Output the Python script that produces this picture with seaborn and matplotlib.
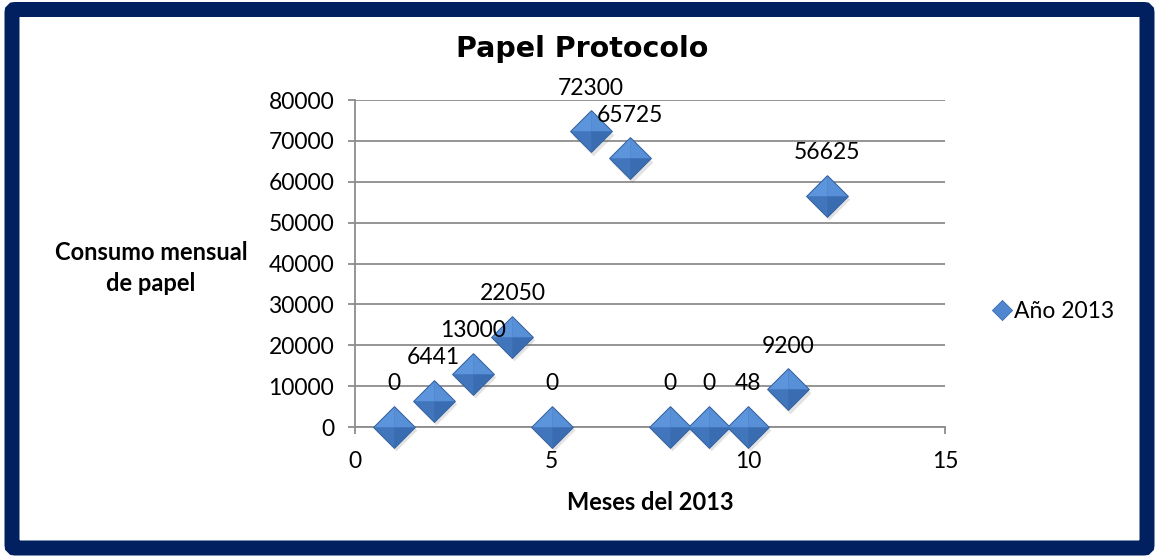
import numpy as np
import pandas as pd
import matplotlib
matplotlib.use("Agg")
import matplotlib.pyplot as plt
import matplotlib.transforms as mtransforms
from matplotlib.lines import Line2D
from matplotlib.patches import FancyBboxPatch
import seaborn as sns

# values
meses = [1, 2, 3, 4, 5, 6, 7, 8, 9, 10, 11, 12]
consumo = [0, 6441, 13000, 22050, 0, 72300, 65725, 0, 0, 48, 9200, 56625]
serie = "Año 2013"
titulo = "Papel Protocolo"
x_label = "Meses del 2013"
y_label = "Consumo mensual\nde papel"
x_ticks = [0, 5, 10, 15]
y_ticks = [0, 10000, 20000, 30000, 40000, 50000, 60000, 70000, 80000]

df = pd.DataFrame({"mes": meses, "consumo": consumo})

NAVY = "#002060"
GRID = "#8c8c8c"
BASE = "#3f71b6"

# diamond marker and its four facets (bevelled look)
diamante = np.array([[0, 1], [1, 0], [0, -1], [-1, 0], [0, 1]])
facetas = [
    ("#5d95dc", [[0, 0], [-1, 0], [0, 1], [0, 0]]),   # top left
    ("#5890d8", [[0, 0], [0, 1], [1, 0], [0, 0]]),    # top right
    ("#4175bc", [[0, 0], [0, -1], [-1, 0], [0, 0]]),  # bottom left
    ("#3a6cb2", [[0, 0], [1, 0], [0, -1], [0, 0]]),   # bottom right
]
S = 900

sns.set_theme(style="white")
plt.rcParams["font.family"] = ["Lato", "DejaVu Sans"]
plt.rcParams["text.color"] = "black"

fig = plt.figure(figsize=(11.58, 5.56), dpi=100)
ax = fig.add_axes([0.3066, 0.2320, 0.5095, 0.5881])

# soft shadow
sombra = ax.transData + mtransforms.ScaledTranslation(1.5 / 72, -2.5 / 72, fig.dpi_scale_trans)
ax.scatter(df["mes"], df["consumo"], s=S, marker=diamante, color="#606060",
           alpha=0.18, linewidths=0, transform=sombra, clip_on=False, zorder=3)

sns.scatterplot(data=df, x="mes", y="consumo", ax=ax, s=S, marker=diamante,
                color=BASE, linewidth=0.8, edgecolor="#35639f", clip_on=False,
                zorder=4, legend=False)
for col, verts in facetas:
    ax.scatter(df["mes"], df["consumo"], s=S * 0.93, marker=np.array(verts), color=col,
               linewidths=0, clip_on=False, zorder=5)

# data labels
for xm, yv in zip(meses, consumo):
    ax.annotate(f"{yv}", (xm, yv), xytext=(0, 31), textcoords="offset points",
                ha="center", va="center", fontsize=16.5, color="black", zorder=6)

ax.set_xlim(0, 15)
ax.set_ylim(0, 80000)
ax.set_xticks(x_ticks)
ax.set_yticks(y_ticks)
ax.set_xticklabels([str(t) for t in x_ticks])
ax.set_yticklabels([str(t) for t in y_ticks])
ax.tick_params(axis="both", labelsize=16.5, colors=GRID, labelcolor="black",
               direction="out", length=5, width=1.3)
ax.tick_params(axis="y", pad=10, left=True)
ax.tick_params(axis="x", pad=12, bottom=True)
ax.yaxis.grid(True, color=GRID, linewidth=1.3)
ax.xaxis.grid(False)
ax.set_axisbelow(True)
for side in ["top", "right"]:
    ax.spines[side].set_visible(False)
for side in ["left", "bottom"]:
    ax.spines[side].set_color(GRID)
    ax.spines[side].set_linewidth(1.3)
ax.set_xlabel("")
ax.set_ylabel("")

fig.text(0.503, 1 - 49 / 556, titulo, ha="center", va="center",
         fontsize=20.5, fontweight="bold", family="DejaVu Sans", color="black")
fig.text(650 / 1158, 1 - 503 / 556, x_label, ha="center", va="center",
         fontsize=17, fontweight="bold", color="black")
fig.text(151 / 1158, 1 - 268 / 556, y_label, ha="center", va="center",
         fontsize=17, fontweight="bold", multialignment="center",
         linespacing=1.4, color="black")

handle = Line2D([], [], linestyle="none", marker=diamante, markersize=14.5,
                markerfacecolor="#4f86cf", markeredgecolor="#3a6cb2", markeredgewidth=0.6)
leg = fig.legend([handle], [serie], loc="center left", bbox_to_anchor=(0.857, 1 - 312 / 556),
                 frameon=False, fontsize=16.5, handlelength=0.8, handletextpad=0.15,
                 borderaxespad=0, borderpad=0)
for t in leg.get_texts():
    t.set_color("black")

# navy frame
marco = FancyBboxPatch((0.12, 0.08), 11.35, 5.385,
                       boxstyle="round,pad=0,rounding_size=0.03",
                       transform=fig.dpi_scale_trans, facecolor="none",
                       edgecolor=NAVY, linewidth=10.8, zorder=10)
fig.patches.append(marco)

fig.savefig("out.png", dpi=100)
